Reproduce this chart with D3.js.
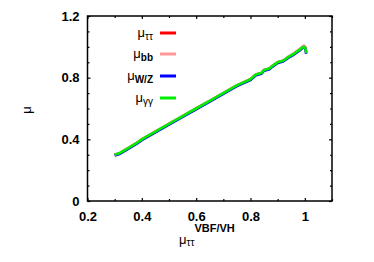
<!DOCTYPE html>
<html>
<head>
<meta charset="utf-8">
<script src="https://cdn.jsdelivr.net/npm/d3@7"></script>
<style>
  body { margin: 0; background: #fff; }
  svg text { font-family: "Liberation Sans", Arial, sans-serif; }
  .tick-label { font-size: 13px; font-weight: bold; }
</style>
</head>
<body>
<div id="chart"></div>
<script>
// scan points along mu_tautau^{VBF/VH}
const xVals = [0.30, 0.32, 0.35, 0.38, 0.40, 0.45, 0.50, 0.55, 0.60, 0.65, 0.70, 0.75,
               0.80, 0.82, 0.84, 0.85, 0.87, 0.88, 0.90, 0.92, 0.94, 0.96, 0.98, 0.99,
               0.997, 1.002, 1.005];
const muTauTau = [0.30, 0.312, 0.343, 0.375, 0.40, 0.45, 0.50, 0.55, 0.60, 0.65, 0.70, 0.75,
                  0.79, 0.82, 0.83, 0.85, 0.86, 0.875, 0.90, 0.91, 0.935, 0.955, 0.98, 0.995,
                  1.005, 0.995, 0.965];
const muBB = [0.30, 0.312, 0.343, 0.375, 0.40, 0.45, 0.50, 0.55, 0.60, 0.65, 0.70, 0.75,
              0.79, 0.82, 0.83, 0.85, 0.86, 0.875, 0.90, 0.91, 0.935, 0.96, 0.985, 1.0,
              1.008, 0.998, 0.968];
const muWZ = [0.295, 0.307, 0.338, 0.37, 0.395, 0.445, 0.495, 0.545, 0.595, 0.645, 0.695, 0.745,
              0.785, 0.815, 0.825, 0.845, 0.855, 0.87, 0.895, 0.905, 0.93, 0.95, 0.975, 0.99,
              0.998, 0.99, 0.955];
const muGG = [0.30, 0.312, 0.343, 0.375, 0.40, 0.45, 0.50, 0.55, 0.60, 0.65, 0.70, 0.75,
              0.79, 0.82, 0.83, 0.85, 0.86, 0.875, 0.90, 0.91, 0.935, 0.955, 0.98, 0.995,
              1.0, 0.99, 0.96];

const seriesNames = ["ττ", "bb", "W/Z", "γγ"];
const seriesBold = [false, true, true, false];
const seriesValues = [muTauTau, muBB, muWZ, muGG];
const seriesColors = ["#ff0000", "#ff9999", "#0000ff", "#00ee00"];

const xMajor = [0.2, 0.4, 0.6, 0.8, 1];
const xMinor = [0.3, 0.5, 0.7, 0.9, 1.1];
const yMajor = [0, 0.4, 0.8, 1.2];
const yMinor = [0.1, 0.2, 0.3, 0.5, 0.6, 0.7, 0.9, 1.0, 1.1];

const width = 374, height = 262;
const margin = { top: 16, right: 42, bottom: 61, left: 87.5 };
const innerW = width - margin.left - margin.right;
const innerH = height - margin.top - margin.bottom;

const svg = d3.select("#chart").append("svg")
    .attr("width", width)
    .attr("height", height);

const g = svg.append("g")
    .attr("transform", `translate(${margin.left},${margin.top})`);

const x = d3.scaleLinear().domain([0.2, 1.1]).range([0, innerW]);
const y = d3.scaleLinear().domain([0, 1.2]).range([innerH, 0]);

// inward ticks on all four sides
const fmt = d => d === 0 ? "0" : (d === 1 ? "1" : d3.format(".1f")(d));

g.append("g").attr("transform", `translate(0,${innerH})`)
    .call(d3.axisBottom(x).tickValues(xMajor).tickSizeInner(-3).tickSizeOuter(0).tickFormat(fmt))
    .call(a => a.selectAll("text").attr("class", "tick-label").attr("dy", "1.3em").attr("fill", "#000"));
g.append("g").attr("transform", `translate(0,${innerH})`)
    .call(d3.axisBottom(x).tickValues(xMinor).tickSizeInner(-2).tickSizeOuter(0).tickFormat(""));
g.append("g")
    .call(d3.axisTop(x).tickValues(xMajor).tickSizeInner(-3).tickSizeOuter(0).tickFormat(""));
g.append("g")
    .call(d3.axisTop(x).tickValues(xMinor).tickSizeInner(-2).tickSizeOuter(0).tickFormat(""));

g.append("g")
    .call(d3.axisLeft(y).tickValues(yMajor).tickSizeInner(-3).tickSizeOuter(0).tickFormat(fmt))
    .call(a => a.selectAll("text").attr("class", "tick-label").attr("x", -8).attr("fill", "#000"));
g.append("g")
    .call(d3.axisLeft(y).tickValues(yMinor).tickSizeInner(-2).tickSizeOuter(0).tickFormat(""));
g.append("g").attr("transform", `translate(${innerW},0)`)
    .call(d3.axisRight(y).tickValues(yMajor).tickSizeInner(-3).tickSizeOuter(0).tickFormat(""));
g.append("g").attr("transform", `translate(${innerW},0)`)
    .call(d3.axisRight(y).tickValues(yMinor).tickSizeInner(-2).tickSizeOuter(0).tickFormat(""));

g.selectAll(".domain").remove();
g.selectAll(".tick line").attr("stroke", "#000").attr("stroke-width", 1.2);

g.append("rect")
    .attr("width", innerW).attr("height", innerH)
    .attr("fill", "none").attr("stroke", "#000").attr("stroke-width", 1.5);

// curves
const line = d3.line()
    .x((d, i) => x(xVals[i]))
    .y(d => y(d));

seriesValues.forEach((vals, i) => {
    g.append("path")
        .datum(vals)
        .attr("d", line)
        .attr("fill", "none")
        .attr("stroke", seriesColors[i])
        .attr("stroke-width", 2.6)
        .attr("stroke-linejoin", "round");
});

// legend
const legendY = [33, 54, 76, 98];
seriesNames.forEach((name, i) => {
    const ly = legendY[i] - margin.top;
    const t = g.append("text")
        .attr("x", 153 - margin.left)
        .attr("y", ly + 4)
        .attr("text-anchor", "end")
        .attr("font-size", 13);
    t.append("tspan").text("μ");
    t.append("tspan")
        .attr("dy", 3)
        .attr("font-size", 10)
        .attr("font-weight", seriesBold[i] ? "bold" : "normal")
        .text(name);
    g.append("line")
        .attr("x1", 160 - margin.left).attr("x2", 176 - margin.left)
        .attr("y1", ly).attr("y2", ly)
        .attr("stroke", seriesColors[i])
        .attr("stroke-width", 3);
});

// axis titles
const xt = svg.append("text")
    .attr("x", 179)
    .attr("y", 244)
    .attr("font-size", 13);
xt.append("tspan").text("μ");
xt.append("tspan").attr("dy", 2).attr("font-size", 10).text("ττ");
xt.append("tspan").attr("dy", -14).attr("font-size", 11).attr("font-weight", "bold").text("VBF/VH");

svg.append("text")
    .attr("transform", "translate(31,110) rotate(-90)")
    .attr("text-anchor", "middle")
    .attr("font-size", 13)
    .text("μ");
</script>
</body>
</html>
